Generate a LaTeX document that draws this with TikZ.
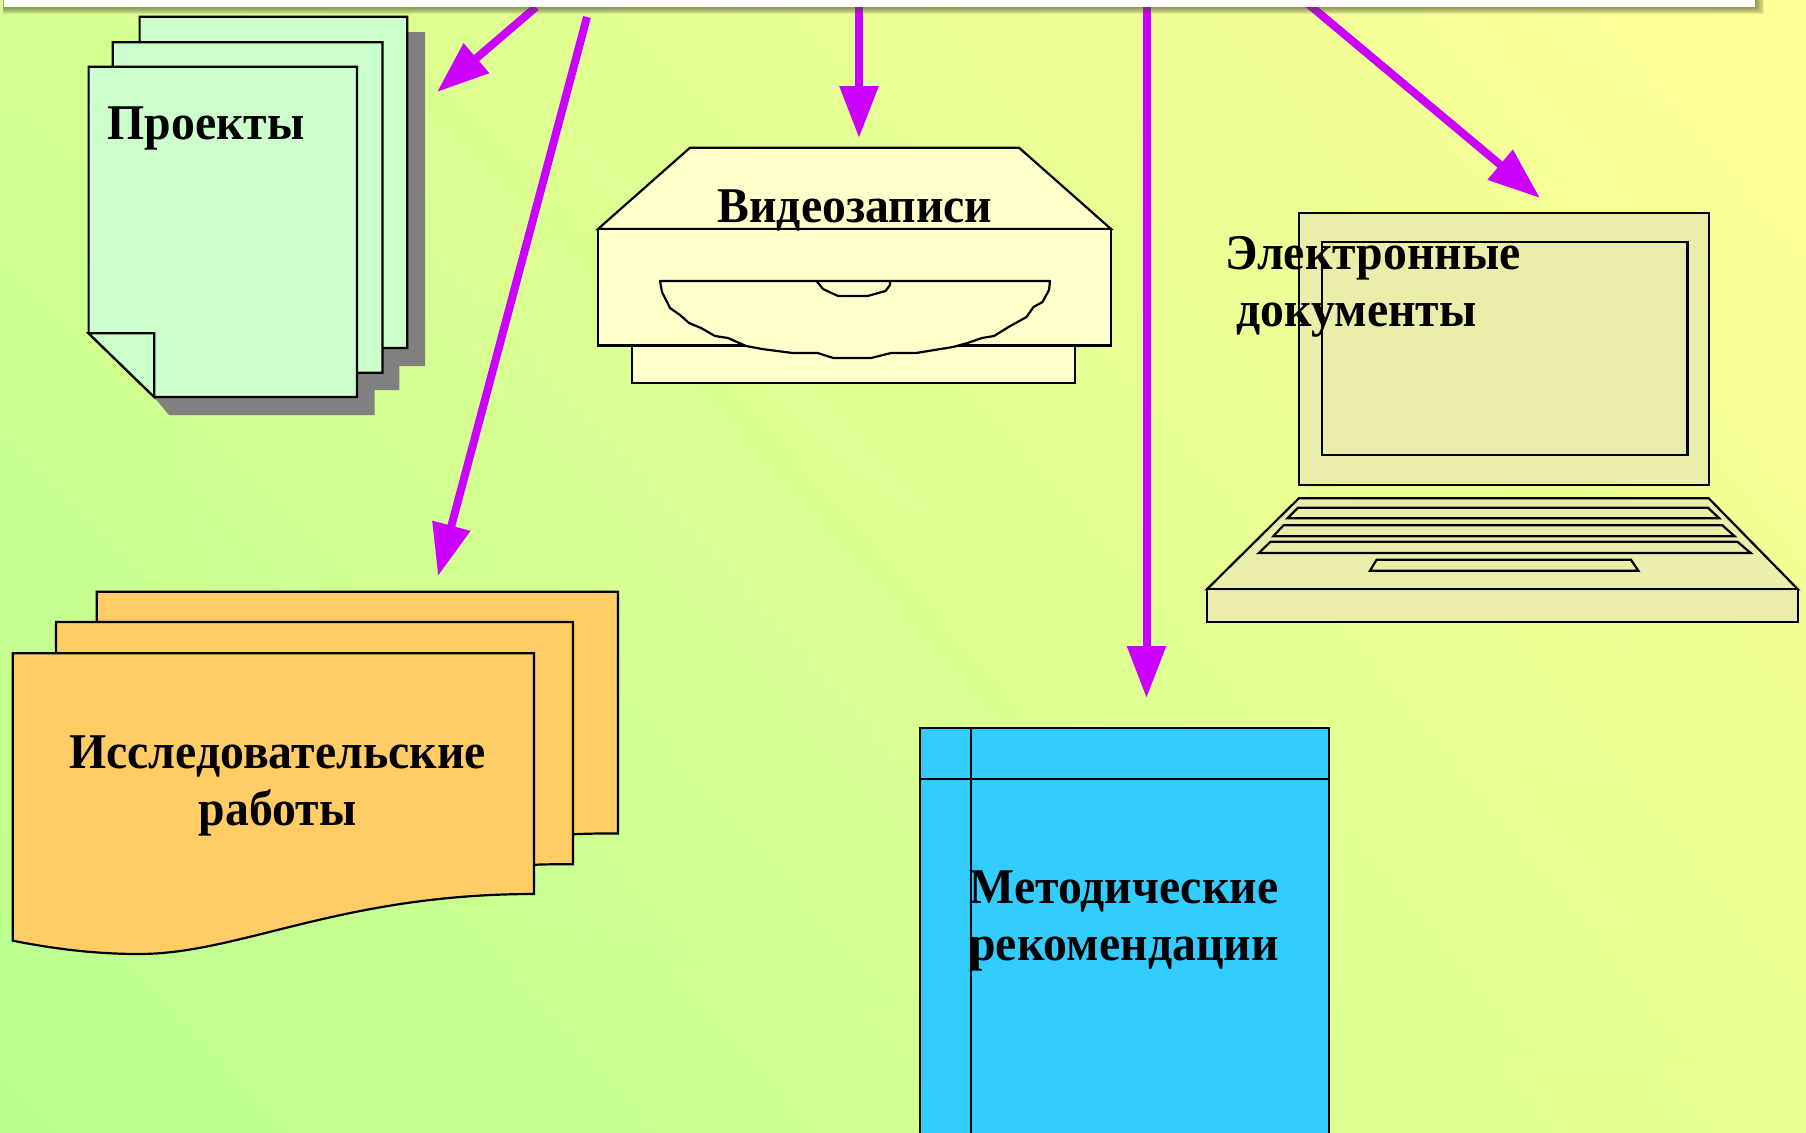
\documentclass[tikz,border=0pt]{standalone}
\usepackage{fontspec}
\setmainfont{Liberation Serif}[BoldFeatures={FakeStretch=0.955}]
\usetikzlibrary{arrows.meta,shadings}
\definecolor{magline}{HTML}{CC00FF}
\definecolor{pagegreen}{HTML}{CCFFCC}
\definecolor{videoyellow}{HTML}{FFFFCC}
\definecolor{laptopfill}{HTML}{EAEEAA}
\definecolor{paperorange}{HTML}{FFCC66}
\definecolor{bookblue}{HTML}{33CCFF}
\definecolor{shadowgray}{HTML}{808080}
\definecolor{bgtl}{HTML}{D4FF90}
\definecolor{bgtr}{HTML}{FFFF99}
\definecolor{bgbl}{HTML}{B8FF90}
\definecolor{bgbr}{HTML}{E8FF90}
\tikzset{
  outline/.style={draw=black,line width=1.65pt,line join=miter},
  pagesheet/.style={outline,fill=pagegreen},
  videopart/.style={outline,fill=videoyellow},
  laptoppart/.style={outline,fill=laptopfill},
  papersheet/.style={outline,fill=paperorange},
  bookpart/.style={outline,fill=bookblue},
  label/.style={font=\fontsize{37.5pt}{42.75pt}\selectfont\bfseries,inner sep=0pt,outer sep=0pt,text=black},
  magarrow/.style={draw=magline,line width=6pt,-{Triangle[length=39pt,width=28pt]}},
}
\begin{document}
\begin{tikzpicture}[x=0.75pt,y=-0.75pt]
\useasboundingbox (0,0) rectangle (1806,1132);
\clip (0,0) rectangle (1806,1132);
% background
\shade[upper left=bgtl,upper right=bgtr,lower left=bgbl,lower right=bgbr] (0,0) rectangle (1806,1132);
% projects
\fill[shadowgray] (154,397) -- (169,415) -- (374.5,415) -- (374.5,390) -- (399.4,390) -- (399.4,366) -- (425,366) -- (425,32) -- (400,32) -- cycle;
\draw[pagesheet] (139.6,16.7) -- (407.3,16.7) -- (407.3,348) -- (205.2,348) -- (139.6,284.3) -- cycle;
\draw[pagesheet] (112.7,42.3) -- (382.4,42.3) -- (382.4,372.7) -- (178.3,372.7) -- (112.7,309) -- cycle;
\draw[pagesheet] (88.6,66.7) -- (357,66.7) -- (357,397) -- (154.2,397) -- (88.6,333.3) -- cycle;
\draw[pagesheet] (88.6,333.3) -- (154.2,333.3) -- (154.2,397) -- cycle;
\node[label,anchor=base west] (projects) at (107.5,139) {Проекты};
% video recorder
\draw[videopart] (632,345) rectangle (1075,383);
\draw[videopart] (690,147.7) -- (1019,147.7) -- (1111,229) -- (598,229) -- cycle;
\draw[videopart] (598,229) rectangle (1111,345.5);
\draw[videopart,line join=round] (660,281) -- (662,292) -- (670,308) -- (680,315) -- (689,323) -- (701,328) -- (715,336) -- (728,338) -- (746,346) -- (762,349) -- (792.5,353) -- (817.5,353) -- (833.5,358) -- (871,358) -- (891,353) -- (916,353) -- (953,347) -- (967.5,343) -- (982,338) -- (994,336) -- (1008.5,327) -- (1026.5,317) -- (1033.5,307) -- (1042.5,302) -- (1049,290) -- (1050,281) -- cycle;
\draw[outline,line join=round] (816.5,281) -- (823,289) -- (838,296) -- (867.5,296) -- (885.5,291) -- (890,285) -- (890,281);
\node[label,anchor=base west] (video) at (717.5,222.7) {Видеозаписи};
% laptop
\draw[laptoppart] (1298.8,213.3) rectangle (1708.7,485);
\draw[laptoppart] (1321.6,242) rectangle (1687.4,455);
\draw[laptoppart] (1298.8,498.3) -- (1708.7,498.3) -- (1797.9,589.3) -- (1206.9,589.3) -- cycle;
\draw[laptoppart] (1206.9,589.3) rectangle (1797.9,621.7);
\draw[laptoppart] (1298,507.7) -- (1707.9,507.7) -- (1719.3,518.3) -- (1287.4,518.3) -- cycle;
\draw[laptoppart] (1283.5,525.3) -- (1722.4,525.3) -- (1734.6,536.3) -- (1273.3,536.3) -- cycle;
\draw[laptoppart] (1270.5,541.7) -- (1737.4,541.7) -- (1750.7,553) -- (1258.8,553) -- cycle;
\draw[laptoppart] (1376.6,559.7) -- (1630.9,559.7) -- (1638.3,570.7) -- (1370,570.7) -- cycle;
\node[label,anchor=base west,align=left] (edocs) at (1225.3,326) {Электронные\\\hspace*{8.5pt}документы};
% research papers
\foreach \dx/\dy/\rx/\by in {84/-61.6/534/895,43.3/-31.3/529.7/895.5,0/0/534/894}{
  \draw[papersheet,shift={(\dx,\dy)}] (12.7,653.3) -- (\rx,653.3) -- (\rx,\by) .. controls (340,894) and (240,954) .. (139,954) .. controls (100,954) and (60,950) .. (12.7,940.7) -- cycle;
}
\node[label,anchor=base,align=center] (research) at (277.5,825) {Исследовательские\\работы};
% book
\draw[bookpart] (920.3,728) rectangle (1329,1145);
\draw[outline] (971,728) -- (971,1145);
\draw[outline] (920.3,778.6) -- (1329,778.6);
\node[label,anchor=base,align=center] (guides) at (1124,960.7) {Методические\\рекомендации};
% arrows
\coordinate (s1) at (536,7); \coordinate (t1) at (437,92);
\coordinate (s2) at (587,17); \coordinate (t2) at (438,576);
\coordinate (s3) at (859,3); \coordinate (t3) at (859,138);
\coordinate (s4) at (1146.5,3); \coordinate (t4) at (1146.5,698);
\coordinate (s5) at (1307,3); \coordinate (t5) at (1540,198);
\draw[magarrow] (s1) -- (t1);
\draw[magarrow] (s2) -- (t2);
\draw[magarrow] (s3) -- (t3);
\draw[magarrow] (s4) -- (t4);
\draw[magarrow] (s5) -- (t5);
% header bar with soft shadow
\foreach \g in {7,6,5,4,3,2,1}{
  \fill[black!60!olive,opacity=0.11] ({4-\g*0.2},-10) rectangle ({1755+\g*1.3},{7+\g*1.0});
}
\fill[white] (4,-10) rectangle (1755,7);
\end{tikzpicture}
\end{document}
